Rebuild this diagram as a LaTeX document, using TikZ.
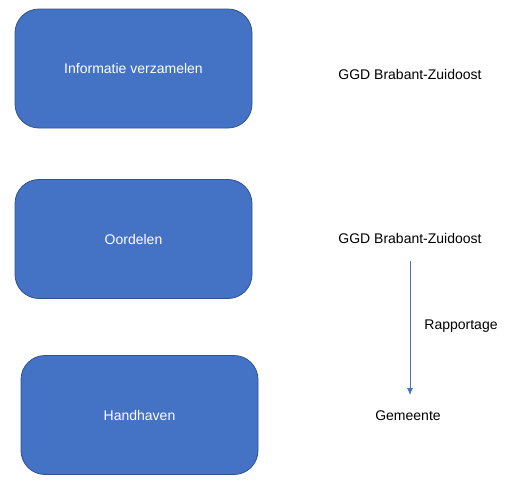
\documentclass[tikz,border=0pt]{standalone}
\usepackage{fontspec}
\setmainfont{Liberation Sans}
\usetikzlibrary{arrows.meta}
\definecolor{boxfill}{HTML}{4472C4}
\definecolor{boxline}{HTML}{2F528F}
\begin{document}
\begin{tikzpicture}[x=1pt,y=-1pt,
  stepbox/.style={draw=boxline,fill=boxfill,rounded corners=24pt,line width=0.8pt,
    minimum width=237pt,minimum height=119pt,text=white,font=\fontsize{14}{16}\selectfont,inner sep=0pt},
  lbl/.style={font=\fontsize{14}{16}\selectfont,inner sep=0pt}]
\useasboundingbox (0,0) rectangle (524,480);
\node[stepbox] (info) at (133.5,68.5) {Informatie verzamelen};
\node[stepbox] (oord) at (133.5,239) {Oordelen};
\node[stepbox] (hand) at (139.5,415) {Handhaven};
\node[lbl] (ggd1) at (410,74) {GGD Brabant-Zuidoost};
\node[lbl] (ggd2) at (410,238) {GGD Brabant-Zuidoost};
\node[lbl] (gem) at (408,416) {Gemeente};
\coordinate (a1) at (410,261);
\coordinate (a2) at (410,395);
\draw[boxfill,line width=0.8pt,-{Latex[length=7pt,width=6pt]}] (a1) -- (a2);
\node[lbl] (rap) at (461,326) {Rapportage};
\end{tikzpicture}
\end{document}
